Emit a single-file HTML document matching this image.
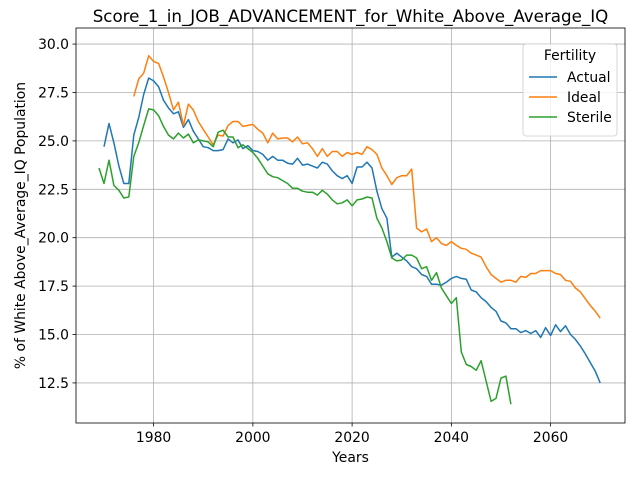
<!DOCTYPE html>
<html><head><meta charset="utf-8"><style>
body{margin:0;background:#fff}
svg{font-family:"DejaVu Sans","Liberation Sans",sans-serif;display:block}
</style></head><body>
<svg width="640" height="480">
<g id="grid"></g>
<g id="series"></g>
<g id="axes"></g>
</svg>
<script>
const actualStart=1970;
const actualVals=[24.7,25.9,24.9,23.7,22.8,22.8,25.3,26.2,27.4,28.25,28.1,27.8,27.1,26.7,26.4,26.5,25.7,26.1,25.5,25.1,24.7,24.65,24.5,24.5,24.55,25.1,24.9,25.05,24.6,24.75,24.5,24.45,24.3,24.0,24.2,24.0,24.0,23.85,23.8,24.1,23.75,23.8,23.7,23.6,23.9,23.8,23.45,23.2,23.05,23.2,22.8,23.65,23.65,23.9,23.6,22.4,21.5,21.0,19.0,19.2,19.0,18.8,18.5,18.4,18.1,18.0,17.6,17.6,17.55,17.7,17.9,18.0,17.9,17.85,17.3,17.2,16.9,16.7,16.4,16.2,15.7,15.6,15.3,15.3,15.1,15.2,15.05,15.2,14.85,15.35,14.95,15.5,15.15,15.45,15.0,14.75,14.4,14.0,13.55,13.1,12.5];
const idealStart=1976;
const idealVals=[27.3,28.2,28.5,29.4,29.1,29.0,28.3,27.5,26.6,27.0,25.8,26.9,26.6,26.0,25.6,25.2,24.8,25.3,25.25,25.8,26.0,26.0,25.75,25.8,25.85,25.6,25.4,24.9,25.4,25.1,25.15,25.15,24.95,25.2,24.85,24.9,24.6,24.2,24.6,24.2,24.45,24.45,24.2,24.4,24.3,24.4,24.3,24.7,24.55,24.3,23.6,23.2,22.75,23.1,23.2,23.2,23.55,20.5,20.3,20.45,19.8,20.0,19.7,19.6,19.8,19.6,19.45,19.4,19.2,19.1,19.0,18.5,18.1,17.9,17.7,17.8,17.8,17.7,18.0,17.95,18.15,18.15,18.3,18.3,18.3,18.15,18.1,17.8,17.75,17.4,17.2,16.85,16.5,16.2,15.85];
const sterileStart=1969;
const sterileVals=[23.6,22.8,24.0,22.7,22.45,22.05,22.1,24.2,24.9,25.8,26.65,26.6,26.3,25.75,25.3,25.1,25.4,25.15,25.35,24.9,25.05,25.0,24.95,24.7,25.45,25.55,25.2,25.2,24.65,24.8,24.6,24.4,24.1,23.7,23.3,23.15,23.1,22.95,22.8,22.55,22.55,22.4,22.35,22.35,22.2,22.45,22.25,21.95,21.75,21.8,21.95,21.65,21.95,22.0,22.1,22.05,21.0,20.5,19.8,18.95,18.8,18.85,19.1,19.1,18.95,18.4,18.5,17.8,18.2,17.4,17.0,16.6,16.9,14.1,13.45,13.35,13.15,13.65,12.6,11.55,11.7,12.75,12.85,11.4];
const xTicks=[1980,2000,2020,2040,2060];
const yTicks=[12.5,15.0,17.5,20.0,22.5,25.0,27.5,30.0];
const seriesNames=["Actual","Ideal","Sterile"];
const colors=["#1f77b4","#ff7f0e","#2ca02c"];

const L=76,R=625,T=28,B=423;
const x0=1964.36,x1=2074.99,y0=10.43,y1=30.83;
const X=v=>L+(v-x0)/(x1-x0)*(R-L);
const Y=v=>B-(v-y0)/(y1-y0)*(B-T);
const NS="http://www.w3.org/2000/svg";
function mk(tag,attrs,parent,text){const e=document.createElementNS(NS,tag);for(const k in attrs)e.setAttribute(k,attrs[k]);if(text!==undefined)e.textContent=text;parent.appendChild(e);return e;}
const grid=document.getElementById('grid'),ser=document.getElementById('series'),ax=document.getElementById('axes');
const FS=13.9;
xTicks.forEach(t=>{
 const l=mk('line',{x1:X(t),x2:X(t),y1:T,y2:B,stroke:'#b0b0b0','stroke-width':0.8},grid);
 
 
 mk('line',{x1:X(t),x2:X(t),y1:B,y2:B+3.5,stroke:'#000','stroke-width':0.8},ax);
 const tx=mk('text',{x:X(t),y:B+19,'text-anchor':'middle','font-size':FS},ax,String(t));
 
 
});
yTicks.forEach(t=>{
 const l=mk('line',{x1:L,x2:R,y1:Y(t),y2:Y(t),stroke:'#b0b0b0','stroke-width':0.8},grid);
 
 
 mk('line',{x1:L-3.5,x2:L,y1:Y(t),y2:Y(t),stroke:'#000','stroke-width':0.8},ax);
 const tx=mk('text',{x:L-7,y:Y(t)+5,'text-anchor':'end','font-size':FS},ax,t.toFixed(1));
 
 
});
const starts=[actualStart,idealStart,sterileStart],vals=[actualVals,idealVals,sterileVals];
vals.forEach((arr,i)=>{
 const pts=arr.map((v,j)=>X(starts[i]+j).toFixed(1)+','+Y(v).toFixed(1)).join(' ');
 const p=mk('polyline',{points:pts,fill:'none',stroke:colors[i],'stroke-width':1.5,'stroke-linejoin':'round'},ser);
 
 
});
const fr=mk('rect',{x:L,y:T,width:R-L,height:B-T,fill:'none',stroke:'#000','stroke-width':0.8},ax);


const ti=mk('text',{x:(L+R)/2,y:22,'text-anchor':'middle','font-size':16.7},ax,'Score_1_in_JOB_ADVANCEMENT_for_White_Above_Average_IQ');


const xl=mk('text',{x:(L+R)/2,y:462,'text-anchor':'middle','font-size':FS},ax,'Years');


const yl=mk('text',{x:0,y:0,'text-anchor':'middle','font-size':FS,transform:`translate(25,${(T+B)/2}) rotate(-90)`},ax,'% of White Above_Average_IQ Population');


const lg=mk('g',{},ax);


mk('rect',{x:523,y:44,width:94,height:92,rx:3,fill:'#fff','fill-opacity':0.8,stroke:'#ccc','stroke-width':0.8},lg);
mk('text',{x:570,y:60,'text-anchor':'middle','font-size':FS},lg,'Fertility');
seriesNames.forEach((n,i)=>{
 const yy=77+i*20;
 const e=mk('g',{},lg);
 
 
 mk('line',{x1:529,x2:557,y1:yy,y2:yy,stroke:colors[i],'stroke-width':1.5},e);
 mk('text',{x:567,y:yy+5,'font-size':FS},e,n);
});
</script>
</body></html>
